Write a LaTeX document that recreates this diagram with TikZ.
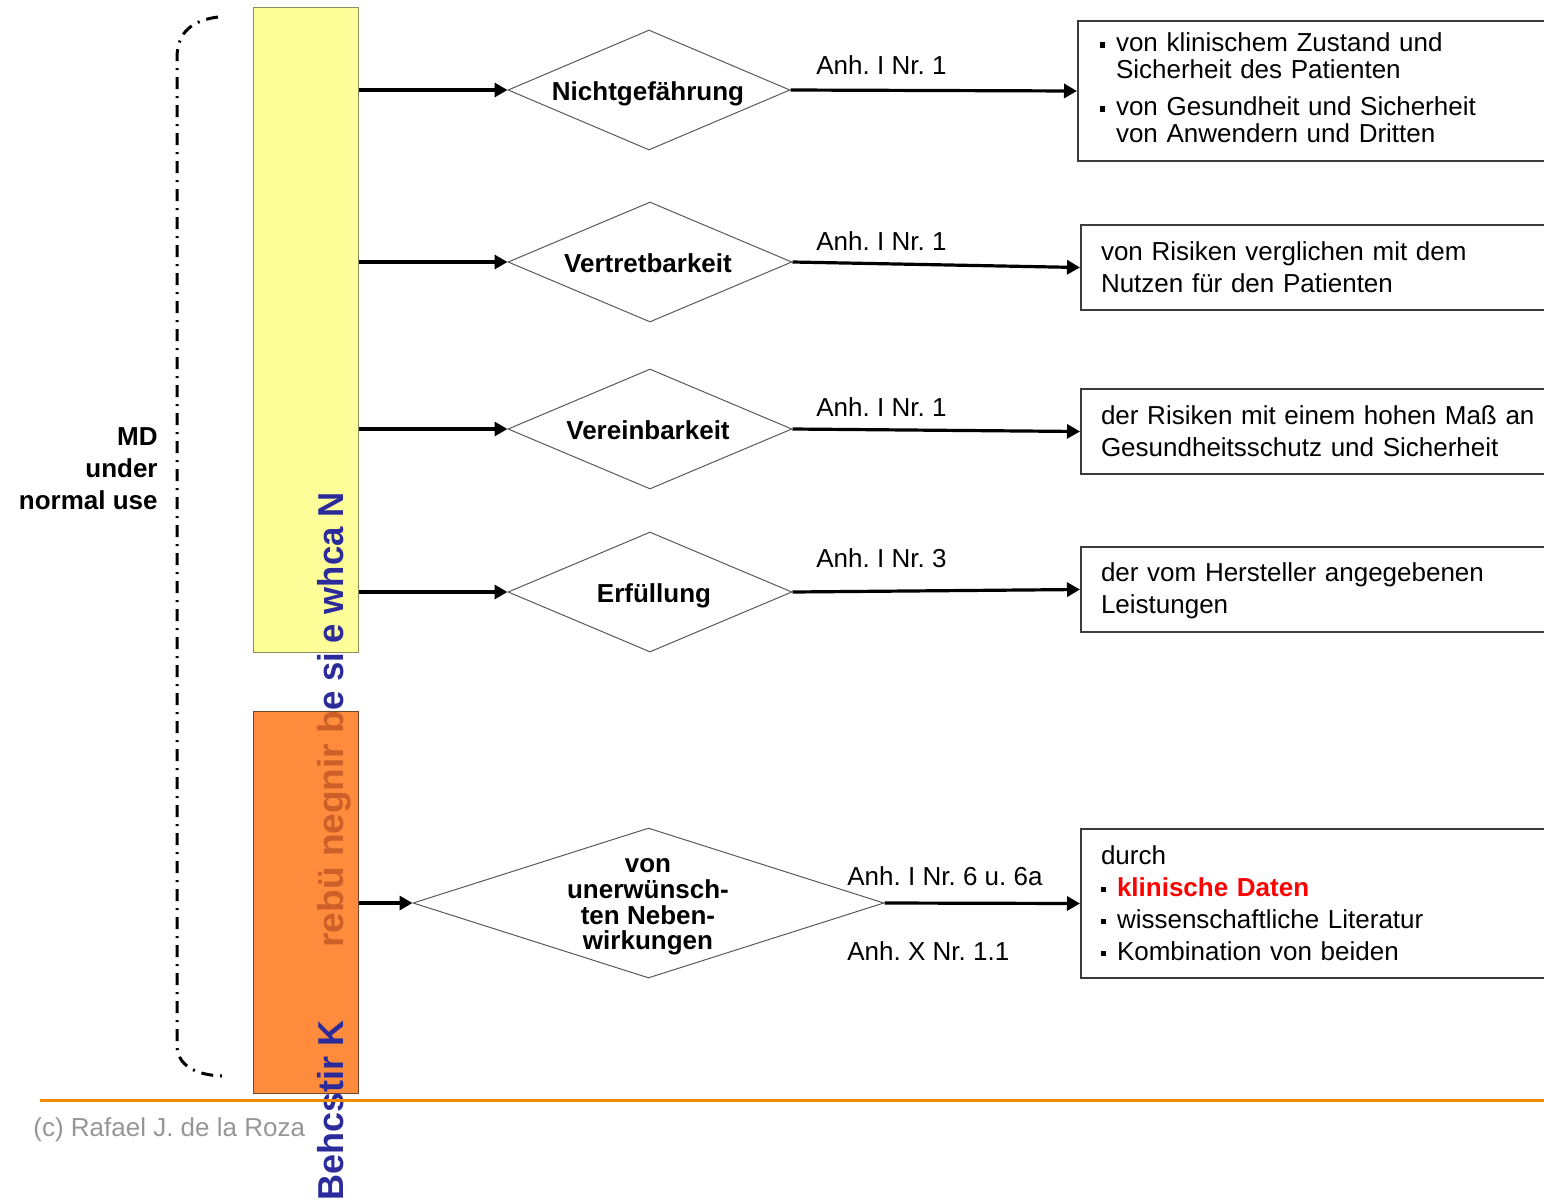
\documentclass[tikz,border=0pt]{standalone}
\usepackage{fontspec}
\setmainfont{Liberation Sans}
\usetikzlibrary{shapes.geometric,arrows.meta}
\definecolor{barblue}{RGB}{43,43,155}
\definecolor{barbrown}{RGB}{205,95,40}
\definecolor{padyellow}{RGB}{255,255,153}
\definecolor{padyellowline}{RGB}{140,140,90}
\definecolor{padorange}{RGB}{255,140,60}
\definecolor{padorangeline}{RGB}{110,70,40}
\definecolor{rulerorange}{RGB}{240,140,0}
\definecolor{footgray}{RGB}{150,150,150}
\definecolor{boxline}{RGB}{60,60,60}
\definecolor{hotred}{RGB}{255,0,0}
\newcommand{\sqbul}{\rule[2.2pt]{2.6pt}{2.6pt}}
\newcommand{\bulitem}{\makebox[8pt][l]{\sqbul}}
\frenchspacing

\begin{document}
\begin{tikzpicture}[x=0.5pt,y=-0.5pt,
  every node/.style={font=\fontsize{13}{16}\selectfont},
  dia/.style={draw=black!65,line width=0.5pt,diamond,inner sep=0pt,aspect=2},
  dtext/.style={font=\fontsize{13}{12.9}\selectfont\bfseries,align=center,inner sep=0pt},
  infobox/.style={draw=boxline,line width=1pt,anchor=north west,align=left,inner xsep=10pt,inner ysep=0pt},
  flow/.style={line width=1.6pt,-{Triangle[length=6.5pt,width=7pt]}},
  ref/.style={anchor=west,inner sep=0pt},
  vcap/.style={rotate=90, anchor=base west, inner sep=0pt,
               font=\fontsize{18}{18}\selectfont\bfseries}
]
\useasboundingbox (0,0) rectangle (1544,1201);

% left brace (dash-dotted)
\draw[line width=1.5pt, dash pattern=on 6pt off 3.5pt on 1pt off 3.5pt]
  (218,17) .. controls (195,20) and (177,30) .. (177,58) -- (177,1045)
  .. controls (177,1065) and (195,1075) .. (222,1076);
\node[anchor=east, align=right, inner sep=0pt,
      font=\fontsize{13}{16}\selectfont\bfseries] (md) at (158,469) {MD\\under\\normal use};

% coloured bars
\node[draw=padyellowline, fill=padyellow, line width=0.6pt, anchor=north west,
      inner sep=0pt, minimum width=52.5pt, minimum height=322.5pt] (yb) at (253,7) {};
\node[draw=padorangeline, fill=padorange, line width=0.6pt, anchor=north west,
      inner sep=0pt, minimum width=52.5pt, minimum height=191pt] (ob) at (253,711) {};

% vertical caption across both bars
\begin{scope}[shift={(343,1201)}]
  \node[vcap, text=barblue] (vta) at (0,0) {Behcstir K};
\end{scope}
\begin{scope}[shift={(343,948)}]
  \node[vcap, xscale=1.03, text=barbrown] (vtb) at (0,0) {rebü negnir b};
\end{scope}
\begin{scope}[shift={(343,711)}]
  \node[vcap, xscale=0.965, text=barblue] (vtc) at (0,0) {e si e whca N};
\end{scope}

% diamonds
\node[dia, minimum width=141pt, minimum height=60pt] (d1) at (649,90) {};
\node[dia, minimum width=142pt, minimum height=60pt] (d2) at (650,262) {};
\node[dia, minimum width=142pt, minimum height=60pt] (d3) at (650,429) {};
\node[dia, minimum width=142pt, minimum height=60pt] (d4) at (650,592) {};
\node[dia, minimum width=235.5pt, minimum height=75pt] (d5) at (648.5,903) {};

\node[dtext, anchor=base] (t1) at (648,100) {Nichtgefährung};
\node[dtext, anchor=base] (t2) at (648,272) {Vertretbarkeit};
\node[dtext, anchor=base] (t3) at (648,439) {Vereinbarkeit};
\node[dtext, anchor=base] (t4) at (654,602) {Erfüllung};
\node[dtext] (t5) at (648,907) {von\\unerwünsch-\\ten Neben-\\wirkungen};

% result boxes
\node[infobox, inner xsep=11pt, minimum height=70pt, text width=219.5pt,
      font=\fontsize{13}{13.5}\selectfont] (b1) at (1077,20)
  {\bulitem von klinischem Zustand und\\
   \hspace*{8pt}Sicherheit des Patienten\\[5pt]
   \bulitem von Gesundheit und Sicherheit\\
   \hspace*{8pt}von Anwendern und Dritten\rule[-3pt]{0pt}{3pt}};
\node[infobox, minimum height=42.5pt, text width=220pt] (b2) at (1080,224)
  {von Risiken verglichen mit dem\\Nutzen für den Patienten};
\node[infobox, minimum height=42.5pt, text width=220pt] (b3) at (1080,388)
  {der Risiken mit einem hohen Maß an\\Gesundheitsschutz und Sicherheit};
\node[infobox, minimum height=42.5pt, text width=220pt] (b4) at (1080,546)
  {\rule{0pt}{11pt}der vom Hersteller angegebenen\\Leistungen};
\node[infobox, minimum height=74.5pt, text width=220pt] (b5) at (1080,828)
  {durch\\
   \bulitem{\color{hotred}\bfseries klinische Daten}\\
   \bulitem wissenschaftliche Literatur\\
   \bulitem Kombination von beiden};

% connectors
\draw[flow] (yb.east |- d1.west) -- (d1.west);
\draw[flow] (yb.east |- d2.west) -- (d2.west);
\draw[flow] (yb.east |- d3.west) -- (d3.west);
\draw[flow] (yb.east |- d4.west) -- (d4.west);
\draw[flow] (ob.east |- d5.west) -- (d5.west);
\draw[flow] (d1.east) -- (b1.west);
\draw[flow] (d2.east) -- (b2.west);
\draw[flow] (d3.east) -- (b3.west);
\draw[flow] (d4.east) -- (b4.west);
\draw[flow] (d5.east) -- (b5.west);

% references
\node[ref] (r1) at (816,65) {Anh. I Nr. 1};
\node[ref] (r2) at (816,241) {Anh. I Nr. 1};
\node[ref] (r3) at (816,407) {Anh. I Nr. 1};
\node[ref] (r4) at (816,558) {Anh. I Nr. 3};
\node[ref] (r5) at (847,876) {Anh. I Nr. 6 u. 6a};
\node[ref] (r6) at (847,951) {Anh. X Nr. 1.1};

% footer
\draw[rulerorange, line width=1.5pt] (40,1100) -- (1560,1100);
\node[anchor=west, inner sep=0pt, text=footgray] (foot) at (33,1130) {(c) Rafael J. de la Roza};
\end{tikzpicture}
\end{document}
